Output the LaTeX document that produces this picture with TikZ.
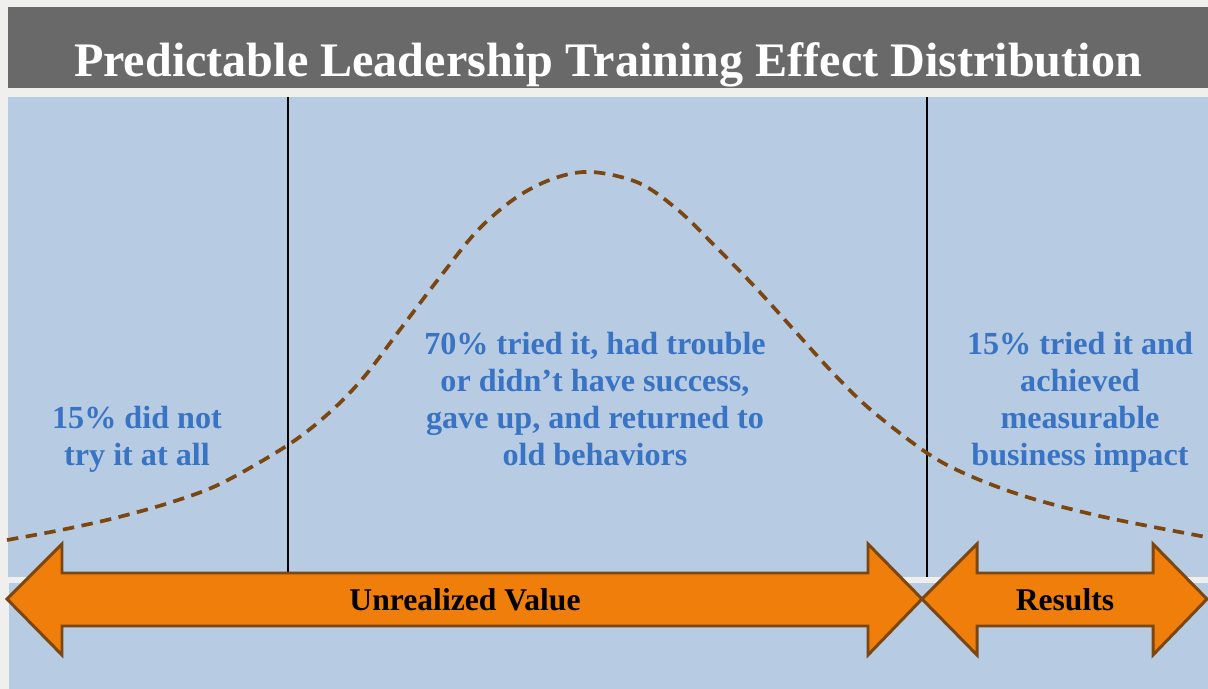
\documentclass[tikz,border=0pt]{standalone}
\usepackage{fontspec}
\setmainfont{Liberation Serif}
\begin{document}
\definecolor{pagebg}{HTML}{EFEFED}
\definecolor{titlebar}{HTML}{696969}
\definecolor{panel}{HTML}{B7CCE3}
\definecolor{orangefill}{HTML}{EF7F0A}
\definecolor{brownline}{HTML}{7B4610}
\definecolor{labelblue}{HTML}{3873C4}
\begin{tikzpicture}[x=0.02cm,y=-0.02cm,
  bodytext/.style={font=\bfseries\fontsize{18.3}{21}\selectfont, text=labelblue, align=center, inner sep=0pt, anchor=base},
  arrowtext/.style={font=\bfseries\fontsize{18}{21}\selectfont, text=black, inner sep=0pt, anchor=base},
  bigarrow/.style={fill=orangefill, draw=brownline, line width=1.7pt, line join=miter},
  divider/.style={draw=black, line width=1.1pt},
  bellcurve/.style={draw=brownline, line width=2.1pt, dash pattern=on 6.5pt off 4.3pt}]
\useasboundingbox (0,0) rectangle (1208,689);
% page and panels
\fill[pagebg] (0,0) rectangle (1208,689);
\fill[titlebar] (8,7) rectangle (1208,88);
\fill[panel] (8,97) rectangle (1208,577);
\fill[panel] (9,583) rectangle (1208,689);
\node[font=\bfseries\fontsize{27.4}{30}\selectfont, text=white, inner sep=0pt, anchor=base] (title) at (608,77) {Predictable Leadership Training Effect Distribution};
% dividers between the three groups
\coordinate (d1top) at (288,97);
\coordinate (d1bot) at (288,577);
\coordinate (d2top) at (927,97);
\coordinate (d2bot) at (927,577);
\draw[divider] (d1top) -- (d1bot);
\draw[divider] (d2top) -- (d2bot);
% distribution curve
\draw[bellcurve] plot[smooth, tension=0.55] coordinates {
  (7,540) (61,530) (115,518) (172,502) (222,483) (288,445) (329,413) (364,377)
  (402,327) (440,277) (478,230) (517,197) (555,178) (592,172) (639,183) (678,210)
  (716,247) (755,287) (794,330) (833,373) (871,410) (927,453) (968,475) (1027,497)
  (1104,517) (1206,537)};
% group labels
\node[bodytext] (nottried) at (137,465) {15\% did not\\try it at all};
\node[bodytext] (gaveup) at (595,465) {70\% tried it, had trouble\\or didn’t have success,\\gave up, and returned to\\old behaviors};
\node[bodytext] (impact) at (1080,465) {15\% tried it and\\achieved\\measurable\\business impact};
% double arrows
\draw[bigarrow] (7,599) -- (62,544) -- (62,573) -- (868,573) -- (868,544) -- (922,599)
  -- (868,655) -- (868,626) -- (62,626) -- (62,655) -- cycle;
\draw[bigarrow] (922,599) -- (977,544) -- (977,573) -- (1153,573) -- (1153,544) -- (1207,599)
  -- (1153,655) -- (1153,626) -- (977,626) -- (977,655) -- cycle;
\node[arrowtext] (unrealized) at (465,610) {Unrealized Value};
\node[arrowtext] (results) at (1065,610) {Results};
\end{tikzpicture}
\end{document}
